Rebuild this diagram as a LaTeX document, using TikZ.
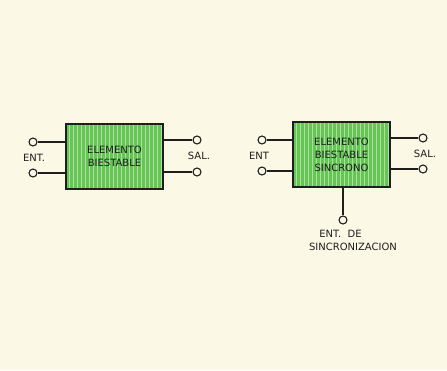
\documentclass[tikz,border=0pt]{standalone}
\usepackage{fontspec}
\setmainfont{DejaVu Sans}
\usepackage{tikz}
\definecolor{paper}{HTML}{FBF8E6}
\definecolor{leafgreen}{HTML}{66C655}
\definecolor{ink}{HTML}{1E1E1E}
\tikzset{
  flipbox/.style={
    draw=ink, line width=1.6pt, fill=leafgreen,
    minimum width=97pt, minimum height=65pt, inner sep=0pt,
    align=center, font=\fontsize{10}{13}\selectfont, text=ink},
  pin/.style={
    circle, draw=ink, line width=1.1pt, fill=paper,
    inner sep=0pt, minimum size=8pt},
  wire/.style={line width=1.1pt, color=ink},
  stripe/.style={line width=1.4pt, color=leafgreen!55!white},
  pinlabel/.style={font=\fontsize{10}{12}\selectfont, text=ink, inner sep=0pt},
}
\begin{document}
\begin{tikzpicture}[x=1pt, y=-1pt]
  \fill[paper] (0,0) rectangle (447,370);
  \useasboundingbox (0,0) rectangle (447,370);

  % biestable
  \node[flipbox] (bi) at (114.5,156.5) {};
  \begin{scope}
    \clip (bi.south west) rectangle (bi.north east);
    \foreach \x in {0,4,...,100}
      \draw[stripe] ([xshift=\x pt]bi.south west) -- ([xshift=\x pt]bi.north west);
  \end{scope}
  \node[flipbox, fill=none] (bi_txt) at (bi) {ELEMENTO\\BIESTABLE};
  \node[pin] (bi_in1)  at (33,142) {};
  \node[pin] (bi_in2)  at (33,173) {};
  \node[pin] (bi_out1) at (197,140) {};
  \node[pin] (bi_out2) at (197,172) {};
  \node[pinlabel] (bi_ent) at (34,158) {ENT.};
  \node[pinlabel] (bi_sal) at (199,156) {SAL.};
  \draw[wire] (bi_in1)  -- (bi_in1 -| bi.west);
  \draw[wire] (bi_in2)  -- (bi_in2 -| bi.west);
  \draw[wire] (bi_out1 -| bi.east) -- (bi_out1);
  \draw[wire] (bi_out2 -| bi.east) -- (bi_out2);

  % biestable sincrono
  \node[flipbox] (sy) at (341.5,154.5) {};
  \begin{scope}
    \clip (sy.south west) rectangle (sy.north east);
    \foreach \x in {0,4,...,100}
      \draw[stripe] ([xshift=\x pt]sy.south west) -- ([xshift=\x pt]sy.north west);
  \end{scope}
  \node[flipbox, fill=none] (sy_txt) at (sy) {ELEMENTO\\BIESTABLE\\SINCRONO};
  \node[pin] (sy_in1)  at (262,140) {};
  \node[pin] (sy_in2)  at (262,171) {};
  \node[pin] (sy_out1) at (423,138) {};
  \node[pin] (sy_out2) at (423,169) {};
  \node[pin] (sy_clk)  at (343,220) {};
  \node[pinlabel] (sy_ent) at (259,156) {ENT};
  \node[pinlabel] (sy_sal) at (425,154) {SAL.};
  \node[pinlabel] (sy_clk1) at (340.5,234) {ENT.~~DE};
  \node[pinlabel] (sy_clk2) at (353,247) {SINCRONIZACION};
  \draw[wire] (sy_in1)  -- (sy_in1 -| sy.west);
  \draw[wire] (sy_in2)  -- (sy_in2 -| sy.west);
  \draw[wire] (sy_out1 -| sy.east) -- (sy_out1);
  \draw[wire] (sy_out2 -| sy.east) -- (sy_out2);
  \draw[wire] (sy.south -| sy_clk) -- (sy_clk);
\end{tikzpicture}
\end{document}
